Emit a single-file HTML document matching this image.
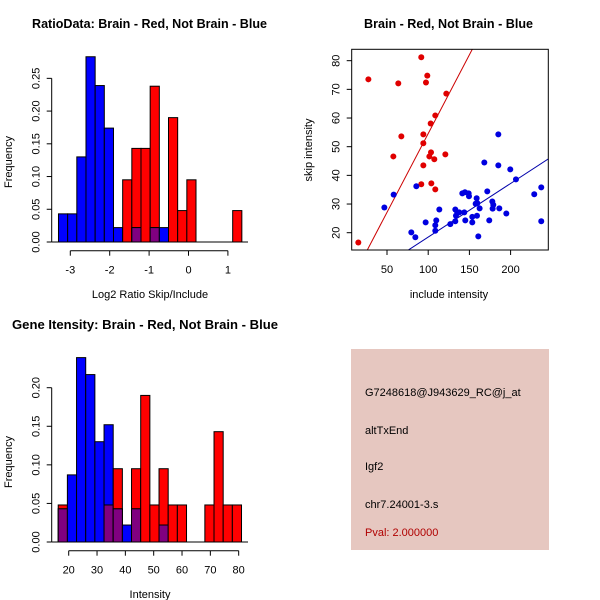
<!DOCTYPE html>
<html><head><meta charset="utf-8"><style>
body{margin:0;background:#fff;}
svg{display:block;font-family:"Liberation Sans",sans-serif;}
</style></head><body>
<svg id="s" width="600" height="600" viewBox="0 0 600 600">
<rect width="600" height="600" fill="#fff"/>
<g id="p1"></g>
<g id="p2"></g>
<g id="p3"></g>
<g>
<rect x="351" y="349" width="198" height="201" fill="#E6C7C0"/>
<text x="365" y="396" font-size="11">G7248618@J943629_RC@j_at</text>
<text x="365" y="434" font-size="11">altTxEnd</text>
<text x="365" y="470" font-size="11">Igf2</text>
<text x="365" y="508" font-size="11">chr7.24001-3.s</text>
<text x="365" y="536" font-size="11" fill="#B00000">Pval: 2.000000</text>
</g>
</svg>
<script>
// Ratio histogram data
const ratioBinStart = -3.3;
const ratioBinWidth = 0.2327;
const ratioBlue = [0.043,0.043,0.130,0.283,0.239,0.174,0.022,0,0.022,0,0.022,0.022,0,0,0,0,0,0,0,0];
const ratioRed  = [0,0,0,0,0,0,0,0.095,0.143,0.143,0.238,0,0.190,0.048,0.095,0,0,0,0,0.048];
const ratioXTicks = [-3,-2,-1,0,1];
const ratioYTicks = ["0.00","0.05","0.10","0.15","0.20","0.25"];
// Intensity histogram data
const intBinStart = 16.3;
const intBinWidth = 3.235;
const intBlue = [0.043,0.087,0.239,0.217,0.130,0.152,0.043,0.022,0.043,0,0,0.022,0,0,0,0,0,0,0,0];
const intRed  = [0.048,0,0,0,0,0.048,0.095,0,0.095,0.190,0.048,0.095,0.048,0.048,0,0,0.048,0.143,0.048,0.048];
const intXTicks = [20,30,40,50,60,70,80];
const intYTicks = ["0.00","0.05","0.10","0.15","0.20"];
// Scatter data
const redInclude = [15.2,27.4,63.7,67.4,57.7,91.6,98.9,97.3,122.0,108.6,103.0,94.1,94.1,103.4,101.4,107.4,120.8,94.1,91.6,103.8,108.6];
const redSkip    = [16.6,73.5,72.1,53.6,46.6,81.2,74.8,72.4,68.5,60.9,58.1,54.3,51.2,48.0,46.6,45.6,47.3,43.5,36.9,37.2,35.1];
const blueInclude = [46.8,58.1,85.6,79.5,84.4,96.9,108.6,108.6,109.8,113.5,126.8,132.9,132.9,133.7,135.3,137.7,143.8,141.4,144.6,145.0,149.1,149.5,153.5,153.5,157.6,158.8,159.6,159.2,162.4,160.8,168.1,171.7,174.1,177.8,178.2,179.0,185.1,185.1,186.3,194.8,199.6,206.5,228.7,237.2,237.2];
const blueSkip    = [28.8,33.3,36.2,20.1,18.4,23.6,22.6,20.7,24.3,28.1,23.0,28.1,24.0,25.9,27.0,27.1,27.1,33.7,34.1,24.3,33.7,32.7,25.5,23.6,30.1,32.0,30.3,25.9,28.5,18.7,44.5,34.4,24.3,30.9,28.4,29.7,54.3,43.5,28.5,26.7,42.1,38.6,33.4,35.8,24.0];
const redFit = [-0.37, 0.5495];
const blueFit = [-0.23, 0.187];
const scXTicks = [50,100,150,200];
const scYTicks = [20,30,40,50,60,70,80];

const NS="http://www.w3.org/2000/svg";
function mk(parent,tag,attrs,text){const e=document.createElementNS(NS,tag);for(const k in attrs)e.setAttribute(k,attrs[k]);if(text!==undefined)e.textContent=text;parent.appendChild(e);return e;}

function hist(g,o){
  const X=v=>o.x0px+(v-o.xv0)*o.xs, Y=v=>o.y0px-v*o.ys;
  for(let i=0;i<o.red.length;i++){
    const a=o.bs+i*o.bw,b=a+o.bw,r=o.red[i],bl=o.blue[i];
    const x=X(a),w=X(b)-X(a);
    if(r>0){const e=mk(g,'rect',{x:x,y:Y(r),width:w,height:Y(0)-Y(r),fill:'#FF0000',stroke:'#000','stroke-width':1});
      
      }
    if(bl>0){const e=mk(g,'rect',{x:x,y:Y(bl),width:w,height:Y(0)-Y(bl),fill:'#0000FF',stroke:'#000','stroke-width':1});
      
      }
    const m=Math.min(r,bl);
    if(m>0){const e=mk(g,'rect',{x:x,y:Y(m),width:w,height:Y(0)-Y(m),fill:'#800080',stroke:'#000','stroke-width':1});
      
      }
  }
  mk(g,'line',{x1:o.yaxX,x2:o.baseEnd,y1:Y(0),y2:Y(0),stroke:'#000'});
  const yt=o.yticks.map(parseFloat);
  mk(g,'line',{x1:o.yaxX,x2:o.yaxX,y1:Y(0),y2:Y(yt[yt.length-1]),stroke:'#000'});
  o.yticks.forEach(t=>{const v=parseFloat(t);mk(g,'line',{x1:o.yaxX-5,x2:o.yaxX,y1:Y(v),y2:Y(v),stroke:'#000'});
    const e=mk(g,'text',{x:o.yaxX-12,y:Y(v),'font-size':11,'text-anchor':'middle',transform:`rotate(-90 ${o.yaxX-12} ${Y(v)})`},t);
    
    });
  const xa=o.xaxY;
  mk(g,'line',{x1:X(o.xticks[0]),x2:X(o.xticks[o.xticks.length-1]),y1:xa,y2:xa,stroke:'#000'});
  o.xticks.forEach(t=>{mk(g,'line',{x1:X(t),x2:X(t),y1:xa,y2:xa+5,stroke:'#000'});
    const e=mk(g,'text',{x:X(t),y:xa+23,'font-size':11,'text-anchor':'middle'},String(t));
    
    });
}

const p1=document.getElementById('p1');
hist(p1,{red:ratioRed,blue:ratioBlue,bs:ratioBinStart,bw:ratioBinWidth,x0px:70.3,xv0:-3,xs:39.4,y0px:242,ys:654.6,yaxX:51.7,baseEnd:248,yticks:ratioYTicks,xticks:ratioXTicks,xaxY:250.7});
let t=mk(p1,'text',{x:32,y:28,'font-size':12.5,'font-weight':'bold',textLength:235,lengthAdjust:'spacingAndGlyphs'},'RatioData: Brain - Red, Not Brain - Blue');

t=mk(p1,'text',{x:150,y:298,'font-size':11,'text-anchor':'middle'},'Log2 Ratio Skip/Include');

t=mk(p1,'text',{x:12,y:162,'font-size':11,'text-anchor':'middle',transform:'rotate(-90 12 162)'},'Frequency');


const p3=document.getElementById('p3');
hist(p3,{red:intRed,blue:intBlue,bs:intBinStart,bw:intBinWidth,x0px:68.7,xv0:20,xs:2.833,y0px:542,ys:771.5,yaxX:51.7,baseEnd:248,yticks:intYTicks,xticks:intXTicks,xaxY:550.7});
t=mk(p3,'text',{x:12,y:329,'font-size':12.5,'font-weight':'bold',textLength:266,lengthAdjust:'spacingAndGlyphs'},'Gene Itensity: Brain - Red, Not Brain - Blue');

t=mk(p3,'text',{x:150,y:598,'font-size':11,'text-anchor':'middle'},'Intensity');

t=mk(p3,'text',{x:12,y:462,'font-size':11,'text-anchor':'middle',transform:'rotate(-90 12 462)'},'Frequency');


const p2=document.getElementById('p2');
const L=351.7,R=548.3,T=49.3,B=250;
const SX=v=>387+(v-50)*0.824, SY=v=>232.7-(v-20)*2.867;
const SXi=px=>50+(px-387)/0.824;
const clip=mk(p2,'clipPath',{id:'sc'});mk(clip,'rect',{x:L,y:T,width:R-L,height:B-T});
function fit(f,col,name){const x1=SXi(L),x2=SXi(R);
  const e=mk(p2,'line',{x1:SX(x1),y1:SY(f[0]+f[1]*x1),x2:SX(x2),y2:SY(f[0]+f[1]*x2),stroke:col,'stroke-width':1,'clip-path':'url(#sc)'});
  }
fit(redFit,'#CC0000','red-fit-line');
fit(blueFit,'#0000AA','blue-fit-line');
redInclude.forEach((v,i)=>{const e=mk(p2,'circle',{cx:SX(v),cy:SY(redSkip[i]),r:3,fill:'#E00000'});
  });
blueInclude.forEach((v,i)=>{const e=mk(p2,'circle',{cx:SX(v),cy:SY(blueSkip[i]),r:3,fill:'#0000E0'});
  });
mk(p2,'rect',{x:L,y:T,width:R-L,height:B-T,fill:'none',stroke:'#000'});
scXTicks.forEach(v=>{mk(p2,'line',{x1:SX(v),x2:SX(v),y1:B,y2:B+5,stroke:'#000'});
  const e=mk(p2,'text',{x:SX(v),y:B+23,'font-size':11,'text-anchor':'middle'},String(v));
  });
scYTicks.forEach(v=>{mk(p2,'line',{x1:L-5,x2:L,y1:SY(v),y2:SY(v),stroke:'#000'});
  const e=mk(p2,'text',{x:L-12,y:SY(v),'font-size':11,'text-anchor':'middle',transform:`rotate(-90 ${L-12} ${SY(v)})`},String(v));
  });
t=mk(p2,'text',{x:364,y:28,'font-size':12.5,'font-weight':'bold',textLength:169,lengthAdjust:'spacingAndGlyphs'},'Brain - Red, Not Brain - Blue');

t=mk(p2,'text',{x:449,y:298,'font-size':11,'text-anchor':'middle'},'include intensity');

t=mk(p2,'text',{x:312,y:150,'font-size':11,'text-anchor':'middle',transform:'rotate(-90 312 150)'},'skip intensity');

</script>
</body></html>
